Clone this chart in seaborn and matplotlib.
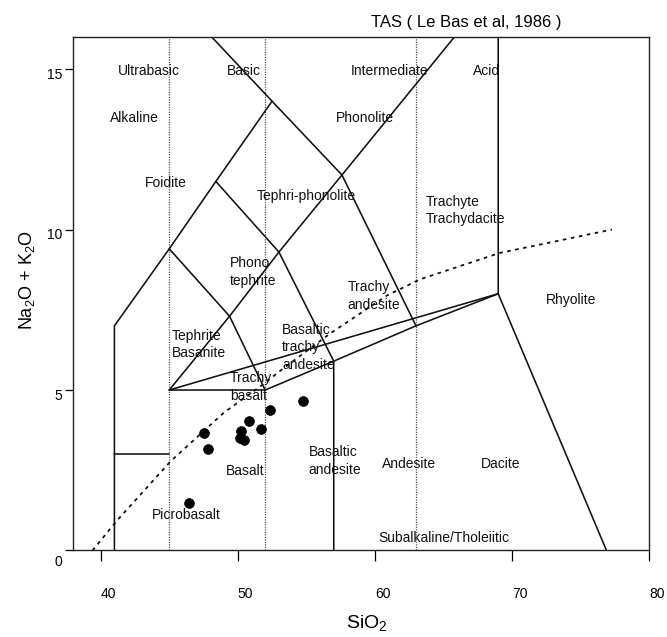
"""
TAS classification diagram (Le Bas et al, 1986) with sample points
"""

import matplotlib
matplotlib.use("Agg")
import matplotlib.pyplot as plt
import matplotlib.transforms as mtransforms
import seaborn as sns
import pandas as pd

sns.set_style("ticks")
plt.rcParams['font.family'] = ['Liberation Sans', 'DejaVu Sans']
plt.rcParams['mathtext.fontset'] = 'custom'
plt.rcParams['mathtext.rm'] = 'Liberation Sans'
plt.rcParams['mathtext.it'] = 'Liberation Sans:italic'
plt.rcParams['text.color'] = 'black'
plt.rcParams['axes.labelcolor'] = 'black'
plt.rcParams['xtick.color'] = 'black'
plt.rcParams['ytick.color'] = 'black'

# samples
sio2 = [47.53, 47.85, 46.46, 50.21, 50.16, 50.45, 50.84, 51.69, 52.35, 54.73]
alkali = [3.66, 3.17, 1.48, 3.72, 3.52, 3.43, 4.03, 3.78, 4.37, 4.65]

# field boundaries (SiO2, Na2O+K2O)
foidite_left = [(41, 0), (41, 7), (45, 9.4), (48.4, 11.5), (52.5, 14)]
phonolite_low = [(48.1, 16), (52.5, 14), (57.6, 11.7), (63, 7)]
tephrite_top = [(45, 9.4), (49.4, 7.3), (52, 5)]
phonotephrite_right = [(48.4, 11.5), (53, 9.3), (57, 5.9), (57, 0)]
trachyte_left = [(45, 5), (49.4, 7.3), (53, 9.3), (57.6, 11.7), (65.8, 16)]
picrobasalt_top = [(41, 3), (45, 3)]
subalkaline_top = [(45, 5), (52, 5), (57, 5.9), (63, 7), (69, 8)]
upper_tie = [(45, 5), (69, 8)]
rhyolite_left = [(69, 16), (69, 8), (76.9, 0)]
boundaries = [foidite_left, phonolite_low, tephrite_top, phonotephrite_right,
              trachyte_left, picrobasalt_top, subalkaline_top, upper_tie,
              rhyolite_left]

# silica divisions (ultrabasic / basic / intermediate / acid)
silica_div = [45, 52, 63]

# Irvine & Baragar alkaline/subalkaline divide
ib_x = [39.4, 41.2, 45.1, 49.0, 51.6, 53.1, 56.7, 60.9, 63.3, 69.1, 77.3]
ib_y = [0.0, 0.94, 2.78, 4.3, 5.1, 5.6, 6.75, 7.95, 8.45, 9.27, 10.0]

# field names: (text, x, y, ha)
field_labels = [
    ("Ultrabasic", 43.49, 14.95, 'center'),
    ("Basic", 50.42, 14.95, 'center'),
    ("Intermediate", 61.06, 14.95, 'center'),
    ("Acid", 68.15, 14.95, 'center'),
    ("Alkaline", 42.44, 13.47, 'center'),
    ("Phonolite", 59.27, 13.47, 'center'),
    ("Foidite", 44.73, 11.44, 'center'),
    ("Tephri-phonolite", 55.03, 11.04, 'center'),
    ("Trachyte\nTrachydacite", 63.71, 10.6, 'left'),
    ("Phono\ntephrite", 49.44, 8.67, 'left'),
    ("Trachy\nandesite", 58.0, 7.93, 'left'),
    ("Rhyolite", 74.28, 7.8, 'center'),
    ("Tephrite\nBasanite", 45.2, 6.42, 'left'),
    ("Basaltic\ntrachy\nandesite", 53.22, 6.34, 'left'),
    ("Trachy\nbasalt", 49.45, 5.1, 'left'),
    ("Basaltic\nandesite", 55.18, 2.79, 'left'),
    ("Andesite", 62.5, 2.7, 'center'),
    ("Dacite", 69.18, 2.7, 'center'),
    ("Basalt", 50.57, 2.47, 'center'),
    ("Picrobasalt", 46.27, 1.12, 'center'),
    ("Subalkaline/Tholeiitic", 65.06, 0.4, 'center'),
]

x_ticks = [40, 50, 60, 70, 80]
y_ticks = [0, 5, 10, 15]

fig = plt.figure(figsize=(6.67, 6.37), dpi=100)
ax = fig.add_axes([0.1099, 0.1358, 0.8631, 0.8061])

for x0 in silica_div:
    ax.plot([x0, x0], [0, 16], color='#555555', lw=0.9, linestyle=(0, (1, 1)))

for seg in boundaries:
    seg_df = pd.DataFrame(seg, columns=['x', 'y'])
    ax.plot(seg_df['x'], seg_df['y'], color='#111111', lw=1.15)

sns.lineplot(x=ib_x, y=ib_y, sort=False, ax=ax, color='#111111', lw=1.3,
             linestyle=(0, (2, 2.5)))

sns.scatterplot(x=sio2, y=alkali, ax=ax, color='black', s=50,
                edgecolor='black', linewidth=0.5, zorder=5)

for text, x, y, ha in field_labels:
    ax.text(x, y, text, ha=ha, va='center', fontsize=10, linespacing=1.32,
            color='#111111')

ax.set_xlim(38, 80)
ax.set_ylim(0, 16)
ax.set_xticks(x_ticks)
ax.set_yticks(y_ticks)
for sp in ax.spines.values():
    sp.set_visible(True)
    sp.set_linewidth(1.0)
    sp.set_color('#222222')

ax.tick_params(axis='x', length=8, width=0.9, pad=18, labelsize=10)
ax.tick_params(axis='y', length=6, width=0.9, pad=2, labelsize=10)
for lab in ax.get_xticklabels():
    lab.set_ha('left')
for lab, yv in zip(ax.get_yticklabels(), y_ticks):
    dy = -10 if yv == 0 else -4
    lab.set_transform(lab.get_transform() +
                      mtransforms.ScaledTranslation(0, dy / 100, fig.dpi_scale_trans))

ax.set_xlabel('SiO$_2$', fontsize=14)
ax.set_ylabel('Na$_2$O + K$_2$O', fontsize=13)
ax.xaxis.label.set_va('center')
ax.yaxis.label.set_va('center')
ax.xaxis.set_label_coords(0.51, -0.142)
ax.yaxis.set_label_coords(-0.08, 0.526)

fig.text(0.699, 0.9644, 'TAS ( Le Bas et al, 1986 )', ha='center', va='center',
         fontsize=12, color='black')

fig.savefig('out.png', dpi=100)
print("Saved: out.png")
